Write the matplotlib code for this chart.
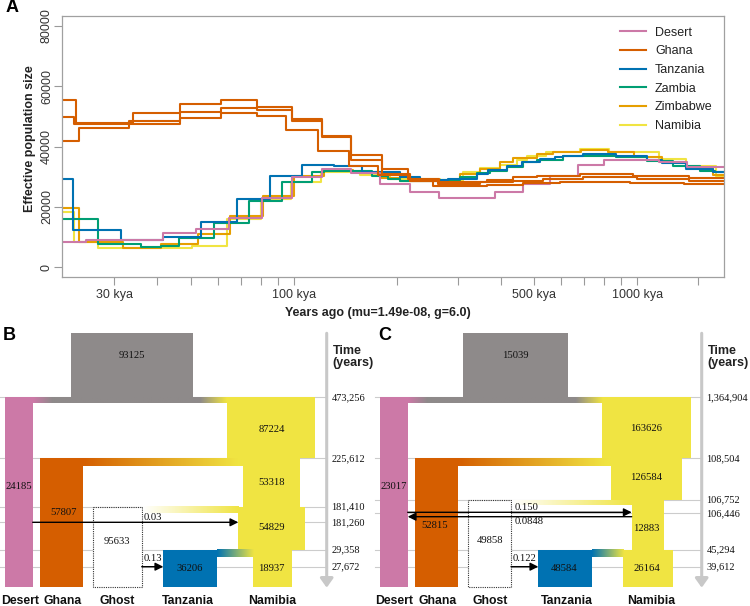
import numpy as np
import matplotlib.pyplot as plt
from matplotlib.colors import to_rgb
from matplotlib.patches import Rectangle
from matplotlib.ticker import NullFormatter

plt.rcParams['font.family'] = ['Liberation Sans', 'DejaVu Sans']

# ---------------- panel A: step curves (time in kya, Ne) ----------------

pop_names = ['Desert', 'Ghana', 'Tanzania', 'Zambia', 'Zimbabwe', 'Namibia']
pop_colors = ['#cc79a7', '#d55e00', '#0072b2', '#009e73', '#e69f00', '#f0e442']

desert_kya = [20, 24.8, 41.5, 51.8, 64.7, 80.6, 98.5, 120.8, 147, 178.7, 218, 264,
              385, 466, 557, 673, 802, 1160, 1400]
desert_ne = [8500, 9100, 11500, 12800, 16400, 23000, 29800, 32500, 31200, 27600, 24800,
             22800, 24800, 27600, 30300, 33900, 35600, 34800, 33300]

ghana1_kya = [20, 23.2, 33.9, 46.5, 61.3, 78.3, 98.5, 120.9, 147, 180.7, 215, 264, 365,
              436, 510, 681, 973, 1420]
ghana1_ne = [55500, 47800, 51100, 54200, 55300, 53100, 49100, 43300, 37100, 32500, 29200,
             28100, 29000, 29800, 30300, 30900, 30300, 29500]

ghana2_kya = [20, 22.8, 33.1, 46.5, 61.3, 78.3, 98.5, 120.9, 147, 180.7, 218, 263, 348,
              435, 530, 694, 1000, 1420]
ghana2_ne = [49900, 47500, 48600, 51300, 52900, 52200, 48500, 43600, 35500, 30900, 28600,
             27600, 28100, 28600, 29200, 29800, 29200, 28600]

ghana3_kya = [20, 23.6, 33.1, 46.5, 61.3, 78.3, 94.6, 117.7, 145, 176, 218, 255, 365, 466,
              595, 952, 1370]
ghana3_ne = [41900, 46000, 47500, 49600, 51100, 50000, 45300, 38600, 33500, 30500, 28600,
             26800, 27200, 27800, 28300, 27900, 27600]

tanzania_kya = [20, 22.7, 31.4, 41.5, 53.5, 68.1, 85.2, 105.3, 130.7, 158, 204, 233, 281,
                341, 368, 417, 461, 521, 575, 607, 697, 870, 1070, 1180, 1390, 1660]
tanzania_ne = [29200, 12300, 9100, 10100, 15000, 22600, 30100, 33900, 33600, 31600, 30000,
               28900, 29200, 30900, 32300, 33600, 34800, 35900, 36400, 37000, 37500, 36700,
               35600, 34400, 32500, 31400]

zambia_kya = [20, 26.8, 35.8, 41, 46.3, 58.6, 74, 92, 113, 122, 169, 188, 204, 267, 305,
              341, 372, 417, 466, 510, 607, 697, 870, 1070, 1270, 1520, 1680]
zambia_ne = [15900, 7600, 6700, 7100, 9600, 14800, 21800, 28100, 31400, 31800, 30300, 29200,
             28600, 29000, 29800, 31100, 32000, 33100, 34800, 35600, 36700, 37000, 36400,
             35100, 33400, 32000, 31400]

zimbabwe_kya = [20, 23.7, 31.7, 41, 52.4, 65.2, 81.5, 100, 122, 149, 179, 204, 305, 348,
                398, 435, 510, 567, 688, 820, 982, 1180, 1390, 1660]
zimbabwe_ne = [19600, 8500, 6500, 7600, 11000, 17000, 23700, 30300, 32200, 31400, 29500,
               28600, 30900, 32500, 34800, 36100, 37500, 38100, 38800, 38100, 36400, 35000,
               32800, 30500]

namibia_kya = [20, 22.9, 26.8, 50.6, 64, 80, 97.8, 119.6, 156, 190, 267, 311, 348, 398,
               446, 476, 543, 680, 830, 1160, 1390, 1700]
namibia_ne = [18200, 8500, 6500, 7000, 15900, 22600, 28300, 31400, 30500, 29200, 28600,
              31400, 32800, 33900, 35600, 37000, 38300, 39200, 38100, 35900, 33600, 30300]

major_ticks_kya = [30, 100, 500, 1000]
minor_ticks_kya = [40, 50, 60, 70, 80, 90, 200, 300, 400, 600, 700, 800, 900, 1500]
y_ticks = [0, 20000, 40000, 60000, 80000]

# ---------------- panels B and C: demographic models ----------------

model_b_times = [473256, 225612, 181410, 181260, 29358, 27672]
model_b_anc = 93125
model_b_desert = 24185
model_b_ghana = 57807
model_b_ghost = 95633
model_b_tanzania = 36206
model_b_namibia = [87224, 53318, 54829, 18937]
model_b_rates = ['0.03', '0.13']

model_c_times = [1364904, 108504, 106752, 106446, 45294, 39612]
model_c_anc = 15039
model_c_desert = 23017
model_c_ghana = 52815
model_c_ghost = 49858
model_c_tanzania = 48584
model_c_namibia = [163626, 126584, 12883, 26164]
model_c_rates = ['0.150', '0.0848', '0.122']

branch_names = ['Desert', 'Ghana', 'Ghost', 'Tanzania', 'Namibia']

W, H = 750, 606
fig = plt.figure(figsize=(W / 100, H / 100), dpi=100)

# ---- panel A
ax = fig.add_axes([62 / W, 1 - 277 / H, 662 / W, 261 / H])

series = [
	(namibia_kya, namibia_ne, 5),
	(zimbabwe_kya, zimbabwe_ne, 4),
	(zambia_kya, zambia_ne, 3),
	(tanzania_kya, tanzania_ne, 2),
	(desert_kya, desert_ne, 0),
	(ghana3_kya, ghana3_ne, 1),
	(ghana2_kya, ghana2_ne, 1),
	(ghana1_kya, ghana1_ne, 1),
]

handles = {}

for kya, ne, k in series:

	t = np.append(np.array(kya), 2000) * 1000
	v = np.append(np.array(ne), ne[-1])
	line, = ax.step(t, v, where='post', color=pop_colors[k], lw=1.5)
	handles[k] = line

ax.set_xscale('log')
ax.set_xlim(21100, 1790000)
ax.set_ylim(-3200, 83200)

ax.set_xticks([v * 1000 for v in major_ticks_kya])
ax.set_xticklabels([f'{v} kya' for v in major_ticks_kya])
ax.set_xticks([v * 1000 for v in minor_ticks_kya], minor=True)
ax.xaxis.set_minor_formatter(NullFormatter())
ax.set_yticks(y_ticks)
ax.set_yticklabels([str(v) for v in y_ticks], rotation=90, va='center')

ax.tick_params(which='both', length=5.5, width=0.8, color='#9a9a9a',
			   labelsize=9, labelcolor='#333333', pad=3)
ax.tick_params(axis='y', pad=1)

for sp in ax.spines.values():

	sp.set_color('#a0a0a0')
	sp.set_linewidth(0.9)

ax.legend([handles[k] for k in range(6)], pop_names,
		  loc='upper left', bbox_to_anchor=((620 - 62) / 662, 0.9585),
		  frameon=False, fontsize=9, handlelength=2.1, handletextpad=0.7,
		  labelspacing=0.53, borderpad=0, borderaxespad=0,
		  labelcolor='#222222')

fig.text(30 / W, 1 - 139 / H, 'Effective population size', rotation=90,
		 ha='center', va='center', fontsize=9, fontweight='bold', color='#222222')
fig.text(378 / W, 1 - 313 / H, 'Years ago (mu=1.49e-08, g=6.0)',
		 ha='center', va='center', fontsize=9, fontweight='bold', color='#222222')

# ---- panels B, C on one overlay in pixel units
axd = fig.add_axes([0, 0, 1, 1])
axd.axis('off')

gray = '#8e8a8a'
level_color = '#cccccc'
serif = ['Liberation Serif', 'DejaVu Serif']


def box(x0, x1, y0, y1, color, z=2):

	axd.add_patch(Rectangle((x0, y0), x1 - x0, y1 - y0, facecolor=color,
							edgecolor='none', zorder=z))


def gradient_bar(x0, x1, y0, y1, stops):

	xs = np.linspace(x0, x1, 300)
	sx = [s[0] for s in stops]
	cols = np.array([to_rgb(s[1]) for s in stops])
	rgb = np.stack([np.interp(xs, sx, cols[:, i]) for i in range(3)], axis=-1)
	axd.imshow(rgb[None, :, :], extent=(x0, x1, y1, y0), aspect='auto',
			   interpolation='bilinear', zorder=2)


def num(x, y, value, **kw):

	axd.text(x, y, str(value), ha='center', va='center', fontsize=7.7,
			 family=serif, color='#111111', zorder=5, **kw)


def arrow(x0, x1, y):

	axd.annotate('', xy=(x1, y), xytext=(x0, y),
				 arrowprops=dict(arrowstyle='-|>,head_length=0.6,head_width=0.3',
								 color='black', lw=1, shrinkA=0, shrinkB=0,
								 mutation_scale=8), zorder=4)


def draw_model(ox, lay, letter, times, anc, desert, ghana, ghost, tanzania, namibia):

	rows = lay['rows']
	top, bottom = 333.3, 586.7
	axis_x = 326.7
	X = lambda v: ox + v

	desert_x = (5, 32.7)
	ghana_x = (40, 83.3)
	tan_x = (163.3, 216.7)
	nam = lay['nam']
	ghost_x = lay['ghost']
	pink, orange, blue, yellow = pop_colors[0], pop_colors[1], pop_colors[2], pop_colors[5]

	for r in rows:

		axd.plot([X(0), X(axis_x)], [r, r], color=level_color, lw=0.8, zorder=1)

	# ancestral population
	box(X(lay['anc'][0]), X(lay['anc'][1]), top, rows[0], gray)

	# branches
	box(X(desert_x[0]), X(desert_x[1]), rows[0], bottom, pink)
	box(X(ghana_x[0]), X(ghana_x[1]), rows[1], bottom, orange)
	box(X(tan_x[0]), X(tan_x[1]), rows[4], bottom, blue)
	box(X(nam[0][0]), X(nam[0][1]), rows[0], rows[1], yellow)
	box(X(nam[1][0]), X(nam[1][1]), rows[1], rows[2], yellow)
	box(X(nam[2][0]), X(nam[2][1]), rows[2], rows[4], yellow)
	box(X(nam[3][0]), X(nam[3][1]), rows[4], bottom, yellow)

	axd.add_patch(Rectangle((X(ghost_x[0]), rows[2]), ghost_x[1] - ghost_x[0],
							bottom - rows[2], facecolor='white', edgecolor='#333333',
							linestyle=(0, (1, 1)), lw=0.8, zorder=2))

	# split bars
	gradient_bar(X(desert_x[1]), X(nam[0][0]), rows[0], rows[0] + 6,
				 [(X(desert_x[1]), pink), (X(52), gray), (X(200), gray),
				  (X(nam[0][0]), yellow)])
	gradient_bar(X(ghana_x[1]), X(nam[1][0]), rows[1], rows[1] + 7.3,
				 [(X(ghana_x[1]), orange), (X(nam[1][0] - 5), yellow),
				  (X(nam[1][0]), yellow)])
	gradient_bar(X(ghost_x[1] + 1), X(nam[2][0]), rows[2], rows[2] + lay['ghost_bar'],
				 [(X(ghost_x[1] + 1), '#ffffff'), (X(nam[2][0]), yellow)])
	gradient_bar(X(tan_x[1]), X(nam[3][0]), rows[4], rows[4] + 7.3,
				 [(X(tan_x[1]), blue), (X(nam[3][0]), yellow)])

	# migrations
	for (x0, x1, y), (lx, ly, txt) in zip(lay['arrows'], lay['rate_labels']):

		arrow(X(x0), X(x1), y)
		axd.text(X(lx), ly, txt, ha='left', va='center', fontsize=7.7,
				 family=serif, color='#111111', zorder=5)

	# sizes
	num(X(sum(lay['anc']) / 2), 356, anc)
	num(X(19), 486.7, desert)
	num(X(lay['ghana_lab'][0]), lay['ghana_lab'][1], ghana)
	num(X(lay['ghost_lab'][0]), lay['ghost_lab'][1], ghost)
	num(X(189.5), 568.3, tanzania)

	for (n0, n1), y, value in zip(nam, lay['nam_lab_y'], namibia):

		num(X(271.5), y, value)

	# time axis
	axd.annotate('', xy=(X(axis_x), bottom + 1), xytext=(X(axis_x), top),
				 arrowprops=dict(arrowstyle='-|>,head_length=0.45,head_width=0.32',
								 color='#c8c8c8', lw=2.2, shrinkA=0, shrinkB=0,
								 mutation_scale=12), zorder=1)
	axd.text(X(332.5), 357, 'Time\n(years)', ha='left', va='center', fontsize=9,
			 fontweight='bold', color='#222222', linespacing=0.95)

	for r, t in zip(rows, times):

		axd.text(X(331.5), r, f'{t:,}', ha='left', va='center', fontsize=7.5,
				 family=serif, color='#111111')

	for name, cx in zip(branch_names, lay['name_x']):

		axd.text(X(cx), 600.5, name, ha='center', va='center', fontsize=8.8,
				 fontweight='bold', color='#111111')

	axd.text(X(3), 335, letter, ha='left', va='center', fontsize=13,
			 fontweight='bold', color='black')


layout_b = dict(
	rows=[397.3, 458.3, 506.7, 522.3, 550, 566.7],
	anc=(71, 192.7),
	nam=[(226.7, 315), (243.3, 300), (238.3, 305), (253.3, 291.7)],
	ghost=(93.3, 141.7),
	ghost_bar=6.6,
	arrows=[(32.7, 238.3, 522.3), (141.7, 163.3, 566.7)],
	rate_labels=[(143.3, 517.5, model_b_rates[0]), (143.3, 558.3, model_b_rates[1])],
	ghana_lab=(63.3, 512.3),
	ghost_lab=(116.7, 541.7),
	nam_lab_y=[429.3, 482.3, 527.7, 568.3],
	name_x=[19.7, 63, 117.5, 188, 272.5],
)

layout_c = dict(
	rows=[397.3, 458.3, 500, 513.3, 550, 566.7],
	anc=(88.3, 192.7),
	nam=[(226.7, 316), (236, 307.3), (256.7, 289.3), (248.3, 297.7)],
	ghost=(92.7, 136),
	ghost_bar=5,
	arrows=[(32.7, 256.7, 512.3), (256.7, 32.7, 516.7), (136, 163.3, 566.7)],
	rate_labels=[(140, 507, model_c_rates[0]), (139.3, 521.7, model_c_rates[1]),
				 (137.3, 558.3, model_c_rates[2])],
	ghana_lab=(60, 525.7),
	ghost_lab=(115, 540.7),
	nam_lab_y=[428.3, 477.7, 528.3, 568.3],
	name_x=[19, 63, 115.5, 192, 276.5],
)

draw_model(0, layout_b, 'B', model_b_times, model_b_anc, model_b_desert, model_b_ghana,
		   model_b_ghost, model_b_tanzania, model_b_namibia)
draw_model(375, layout_c, 'C', model_c_times, model_c_anc, model_c_desert, model_c_ghana,
		   model_c_ghost, model_c_tanzania, model_c_namibia)

axd.text(6, 8, 'A', ha='left', va='center', fontsize=13, fontweight='bold', color='black')

axd.set_xlim(0, W)
axd.set_ylim(H, 0)
axd.set_aspect('auto')

fig.savefig('out.png', dpi=100)
